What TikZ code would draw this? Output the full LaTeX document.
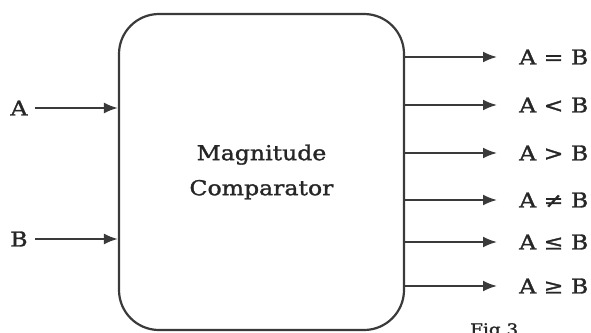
\documentclass[tikz,border=0pt]{standalone}
\usepackage{fontspec}
\setmainfont[FakeStretch=1.15,FakeBold=1.5]{DejaVu Serif}
\usetikzlibrary{arrows.meta}
\definecolor{ink}{HTML}{262626}
\definecolor{edge}{HTML}{3A3A3A}
\tikzset{
  box/.style={draw=edge, line width=2.2pt, rounded corners=40pt, minimum width=285pt, minimum height=316pt, inner sep=0pt, text=ink, align=center, font=\fontsize{20.5}{35}\selectfont},
  lbl/.style={text=ink, inner sep=0pt, font=\fontsize{20.5}{24}\selectfont},
  conn/.style={draw=edge, line width=2pt, -{Latex[length=14pt,width=11pt]}},
}
\begin{document}
\begin{tikzpicture}[x=1pt,y=-1pt]
\useasboundingbox (0,0) rectangle (591,332);
\node[box] (cmp) at (261.5,172) {Magnitude\\Comparator};
\node[lbl] (A) at (19,108) {A};
\node[lbl] (B) at (19,239) {B};
\draw[conn] (A.east) ++(7pt,0) coordinate (a0) -- (cmp.west |- a0);
\draw[conn] (B.east) ++(7pt,0) coordinate (b0) -- (cmp.west |- b0);
\node[lbl, anchor=west] (o1) at (519,57) {A = B};
\node[lbl, anchor=west] (o2) at (519,105) {A < B};
\node[lbl, anchor=west] (o3) at (519,153) {A > B};
\node[lbl, anchor=west] (o4) at (519,200) {A ≠ B};
\node[lbl, anchor=west] (o5) at (519,242) {A ≤ B};
\node[lbl, anchor=west] (o6) at (519,286) {A ≥ B};
\foreach \o in {o1,o2,o3,o4,o5,o6}{
  \draw[conn] (cmp.east |- \o.west) -- ([xshift=-22pt]\o.west);
}
\node[lbl, anchor=north west, font=\fontsize{16}{18}\selectfont] (fig) at (470,323) {Fig 3};
\end{tikzpicture}
\end{document}
